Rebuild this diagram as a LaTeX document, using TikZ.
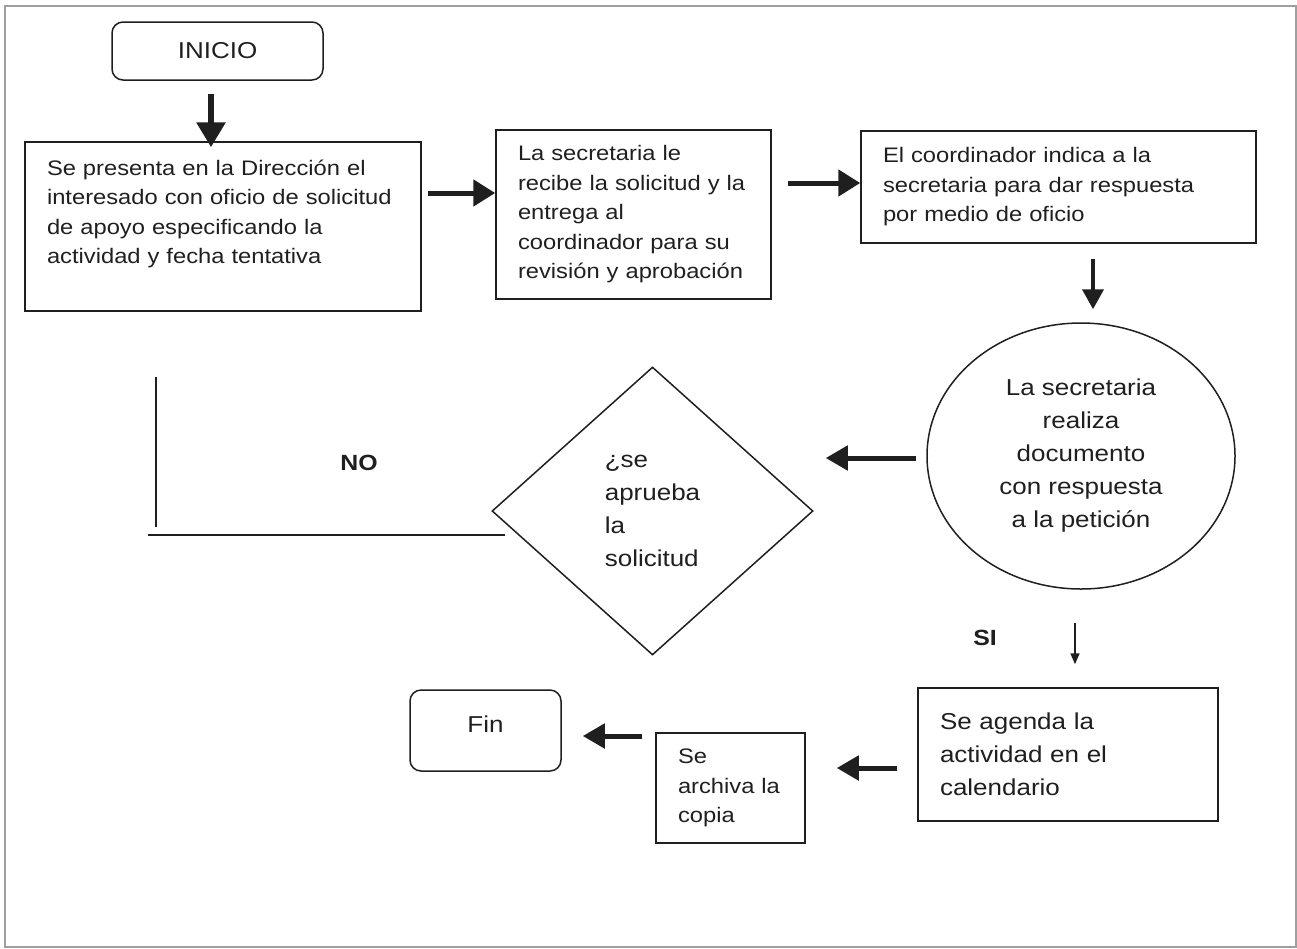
\documentclass[tikz,border=0pt]{standalone}
\usepackage{fontspec}
\setmainfont{Liberation Sans}[FakeStretch=1.13]
\usetikzlibrary{arrows.meta,shapes.geometric}

\begin{document}
\begin{tikzpicture}[x=1pt,y=-1pt,
        caja/.style={draw=tinta,line width=1.5pt,text=tinta,align=left,inner xsep=22pt,
            text width=#1,font=\fontsize{21}{29.5}\selectfont},
        term/.style={draw=tinta,line width=1.5pt,rounded corners=11pt,text=tinta,align=center,
            font=\fontsize{23}{26}\selectfont},
        grande/.style={font=\fontsize{23}{33}\selectfont,text=tinta},
        flecha/.style={draw=tinta,line width=5pt,-{Triangle[length=22pt,width=26pt]}},
        flechita/.style={draw=tinta,line width=1.5pt,-{Triangle[length=11pt,width=9pt]}},
        etiqueta/.style={font=\fontsize{22}{26}\selectfont\bfseries,text=tinta}]
        %colores
        \colorlet{tinta}{black!88}
        \colorlet{marco}{gray!75}

        \useasboundingbox (0,0) rectangle (1297,948);
        % Marco
        \draw[marco,line width=1.5pt] (5,6) rectangle (1296,947);

        % Nodos
        \node[term,minimum width=211pt,minimum height=58pt] (inicio) at (217.5,51) {INICIO};
        \node[caja=352pt,minimum height=169pt] (pres) at (223,226.5)
            {Se presenta en la Dirección el\\interesado con oficio de solicitud\\de apoyo especificando la\\actividad y fecha tentativa\\\mbox{}};
        \node[caja=231pt,minimum height=169pt] (recibe) at (633.5,214.5)
            {La secretaria le\\recibe la solicitud y la\\entrega al\\coordinador para su\\revisión y aprobación};
        \node[caja=351pt,minimum height=112pt] (coord) at (1058.5,187)
            {El coordinador indica a la\\secretaria para dar respuesta\\por medio de oficio};
        \node[ellipse,draw=tinta,line width=1.5pt,grande,align=center,
            minimum width=308pt,minimum height=266pt] (doc) at (1081,456)
            {La secretaria\\realiza\\documento\\con respuesta\\a la petición};
        \node[diamond,draw=tinta,line width=1.5pt,grande,align=left,
            minimum width=321pt,minimum height=288pt] (aprueba) at (652.5,511)
            {¿se\\aprueba\\la\\solicitud};
        \node[caja=256pt,grande,minimum height=133pt] (agenda) at (1068,754.5)
            {Se agenda la\\actividad en el\\calendario};
        \node[caja=105pt,minimum height=110pt] (archivo) at (730.5,788)
            {Se\\archiva la\\copia};
        \node[term,minimum width=151pt,minimum height=81pt] (fin) at (485.5,730.5) {Fin\\[-14pt]\mbox{}};

        % Etiquetas
        \node[etiqueta] (no) at (359,463) {NO};
        \node[etiqueta] (si) at (985,638) {SI};

        % Linea del NO
        \coordinate (noa) at (156,377);
        \coordinate (nob) at (156,527);
        \coordinate (noc) at (148,535);
        \coordinate (nod) at (505,535);
        \draw[tinta,line width=1.5pt] (noa) -- (nob);
        \draw[tinta,line width=1.5pt] (noc) -- (nod);

        % Flechas
        \draw[flecha,line width=6pt,-{Triangle[length=25pt,width=28pt]},shorten <=13pt,shorten >=-6pt]
            ([xshift=-6.5pt]inicio.south) -- ([xshift=-6.5pt]inicio.south |- pres.north);
        \draw[flecha,shorten <=6pt] ([yshift=33.5pt]pres.east) -- ([yshift=33.5pt]pres.east -| recibe.west);
        \draw[flecha,shorten <=16pt] ([yshift=31.5pt]recibe.east) -- ([yshift=31.5pt]recibe.east -| coord.west);
        \draw[flecha,line width=4pt,-{Triangle[length=20pt,width=21pt]},shorten <=15pt,shorten >=13pt]
            ([xshift=34.5pt]coord.south) -- ([xshift=34.5pt]coord.south |- doc.north);
        \draw[flecha,-{Triangle[length=22pt,width=24pt]},shorten <=10pt,shorten >=12pt]
            ([yshift=-2pt]doc.west) -- ([yshift=-2pt]doc.west -| aprueba.east);
        \draw[flechita,shorten <=33pt,shorten >=23pt]
            ([xshift=-6pt]doc.south) -- ([xshift=-6pt]doc.south |- agenda.north);
        \draw[flecha,-{Triangle[length=22pt,width=24pt]},shorten <=20pt,shorten >=31pt]
            ([yshift=-13.5pt]agenda.west) -- ([yshift=-13.5pt]agenda.west -| archivo.east);
        \draw[flecha,-{Triangle[length=22pt,width=24pt]},shorten <=13pt,shorten >=21pt]
            ([yshift=-5.5pt]fin.east -| archivo.west) -- ([yshift=-5.5pt]fin.east);
    \end{tikzpicture}
\end{document}
